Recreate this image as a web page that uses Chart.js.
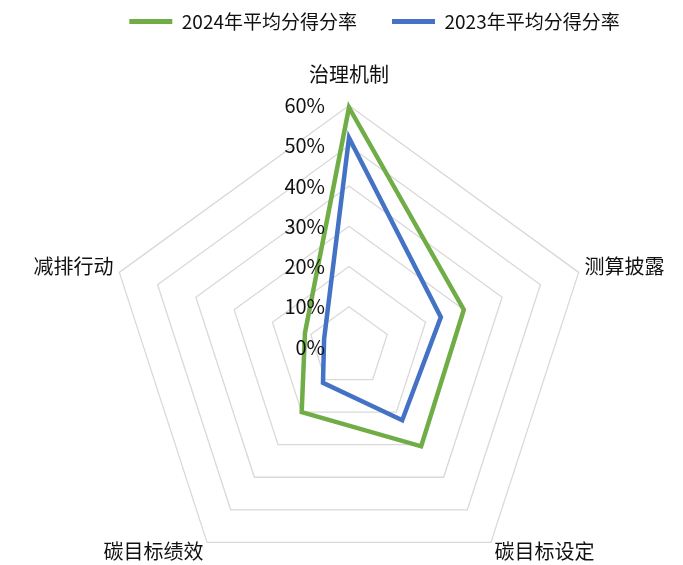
<!DOCTYPE html>
<html>
<head>
<meta charset="utf-8">
<script src="https://cdn.jsdelivr.net/npm/chart.js@4.4.0/dist/chart.umd.min.js"></script>
<style>
  html, body { margin: 0; padding: 0; background: #fff; overflow: hidden; }
  /* the canvas runs a bit past the bottom edge so the radar can be as large as the window allows */
  #wrap { width: 683px; height: 565px; overflow: hidden; }
</style>
</head>
<body>
<div id="wrap"><canvas id="chart-js" width="683" height="612"></canvas></div>
<script>
const categories = ['治理机制', '测算披露', '碳目标设定', '碳目标绩效', '减排行动'];
const seriesNames = ['2024年平均分得分率', '2023年平均分得分率'];
const score2024 = [59.5, 30, 30.5, 20, 11.5];
const score2023 = [52, 24, 22.5, 11, 6.5];
const seriesColors = ['#70ad47', '#4472c4'];
const scaleMax = 60;
const scaleStep = 10;

Chart.defaults.font.family = "'Noto Sans CJK SC', 'Noto Sans', sans-serif";
Chart.defaults.color = '#111';

// percent labels go to the left of the top spoke, on top of the lines
const tickLabels = {
  id: 'tickLabels',
  afterDatasetsDraw(chart) {
    const r = chart.scales.r;
    const ctx = chart.ctx;
    ctx.save();
    ctx.font = "20px 'Noto Sans CJK SC'";
    ctx.fillStyle = '#111';
    ctx.textAlign = 'right';
    ctx.textBaseline = 'middle';
    r.ticks.forEach(t => {
      const y = r.yCenter - r.getDistanceFromCenterForValue(t.value);
      ctx.fillText(t.value + '%', r.xCenter - 24, y);
    });
    ctx.restore();
  }
};

// push the legend row a little to the right
const legendShift = {
  id: 'legendShift',
  afterLayout(chart) {
    chart.legend.left += 25;
    chart.legend.right += 25;
  }
};

const ctx = document.getElementById('chart-js').getContext('2d');

const myChart = new Chart(ctx, {
  type: 'radar',
  data: {
    labels: categories,
    datasets: [{
      label: seriesNames[0],
      data: score2024,
      borderColor: seriesColors[0],
      backgroundColor: seriesColors[0],
      borderWidth: 4.5,
      pointRadius: 0,
      fill: false
    }, {
      label: seriesNames[1],
      data: score2023,
      borderColor: seriesColors[1],
      backgroundColor: seriesColors[1],
      borderWidth: 4.5,
      pointRadius: 0,
      fill: false
    }]
  },
  options: {
    responsive: false,
    animation: false,
    layout: { padding: { left: 16, right: 0, top: -23, bottom: 0 } },
    elements: { line: { tension: 0, borderJoinStyle: 'miter' } },
    plugins: {
      legend: {
        position: 'top',
        labels: {
          boxWidth: 43,
          boxHeight: 5,
          padding: 35,
          color: '#111',
          font: { size: 19 },
          generateLabels(chart) {
            return Chart.defaults.plugins.legend.labels.generateLabels(chart)
              .map(item => ({ ...item, lineWidth: 0, fillStyle: item.strokeStyle }));
          }
        }
      },
      tooltip: { enabled: false }
    },
    scales: {
      r: {
        min: 0,
        max: scaleMax,
        ticks: { display: false, stepSize: scaleStep },
        angleLines: { display: false },
        grid: { color: '#d9d9d9', lineWidth: 1.3 },
        pointLabels: {
          color: '#111',
          padding: c => c.index === 0 ? 19.5 : 6,
          font: c => ({ size: 20, lineHeight: c.index === 0 ? 1.2 : 0.42 })
        }
      }
    }
  },
  plugins: [tickLabels, legendShift]
});
</script>
</body>
</html>
